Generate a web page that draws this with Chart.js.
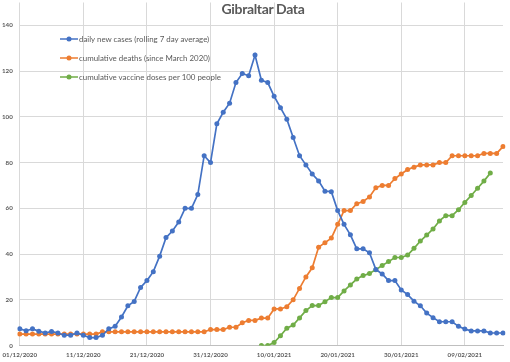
<!DOCTYPE html>
<html>
<head>
<meta charset="utf-8">
<script src="https://cdn.jsdelivr.net/npm/chart.js@4.4.1/dist/chart.umd.min.js"></script>
<style>
html,body{margin:0;padding:0;background:#ffffff;}
#wrap{position:relative;width:510px;height:362px;overflow:hidden;}
#c{position:absolute;left:0;top:0;}
#title{position:absolute;left:163px;width:200px;top:0px;text-align:center;font-family:Lato,sans-serif;font-weight:bold;font-size:14px;letter-spacing:-0.35px;line-height:17px;color:#595959;}
.li{position:absolute;left:60px;height:12px;display:flex;align-items:center;font-family:Lato,sans-serif;font-size:7.9px;color:#595959;white-space:nowrap;}
.li svg{display:block;margin-right:1px;}
</style>
</head>
<body>
<div id="wrap">
<canvas id="c" width="510" height="362"></canvas>
<div id="title">Gibraltar Data</div>
<div id="legend"></div>
</div>
<script>
// ---- data ----
const dates = [
'01/12/2020','02/12/2020','03/12/2020','04/12/2020','05/12/2020','06/12/2020','07/12/2020','08/12/2020','09/12/2020','10/12/2020',
'11/12/2020','12/12/2020','13/12/2020','14/12/2020','15/12/2020','16/12/2020','17/12/2020','18/12/2020','19/12/2020','20/12/2020',
'21/12/2020','22/12/2020','23/12/2020','24/12/2020','25/12/2020','26/12/2020','27/12/2020','28/12/2020','29/12/2020','30/12/2020',
'31/12/2020','01/01/2021','02/01/2021','03/01/2021','04/01/2021','05/01/2021','06/01/2021','07/01/2021','08/01/2021','09/01/2021',
'10/01/2021','11/01/2021','12/01/2021','13/01/2021','14/01/2021','15/01/2021','16/01/2021','17/01/2021','18/01/2021','19/01/2021',
'20/01/2021','21/01/2021','22/01/2021','23/01/2021','24/01/2021','25/01/2021','26/01/2021','27/01/2021','28/01/2021','29/01/2021',
'30/01/2021','31/01/2021','01/02/2021','02/02/2021','03/02/2021','04/02/2021','05/02/2021','06/02/2021','07/02/2021','08/02/2021',
'09/02/2021','10/02/2021','11/02/2021','12/02/2021','13/02/2021','14/02/2021','15/02/2021'
];
const tickLabels = ['01/12/2020','11/12/2020','21/12/2020','31/12/2020','10/01/2021','20/01/2021','30/01/2021','09/02/2021'];
const yTicks = [0,20,40,60,80,100,120,140];

const seriesNames = [
  'daily new cases (rolling 7 day average)',
  'cumulative deaths (since March 2020)',
  'cumulative vaccine doses per 100 people'
];
const seriesColors = ['#4472C4','#ED7D31','#70AD47'];

const dailyCases = [
7.3,6.5,7.3,6.3,5.5,6.2,5.5,4.5,4.5,5.5,
4.5,3.5,3.5,4.5,7.3,8.4,12.5,17.4,19.3,25.4,
28.4,32.3,39.1,47.2,50.1,54,60,60,66,83,
80,97,102,106,115,119,118,127,116,115,
109,104,99,91,83,79,75,72,67.5,67.3,
59,53,48.4,42.3,42.3,40.6,33.3,31.3,28.4,28.4,
24.3,22.3,19.4,17.4,14.2,12.2,10.4,10.4,10.4,8.4,
7.2,6.4,6.4,6.4,5.5,5.5,5.5
];
const cumulativeDeaths = [
5,5,5,5,5,5,5,5,5,5,
5,5,5,6,6,6,6,6,6,6,
6,6,6,6,6,6,6,6,6,6,
7,7,7,8,8,10,11,11,12,12,
16,16,17,20,25,30,34,43,45,47,
53,59,59,62,63,65,69,70,70,73,
75,77,78,79,79,79,80,80,83,83,
83,83,83,84,84,84,87
];
const vaccineStart = '08/01/2021';
const vaccineDoses = [
0,0,1.3,4.3,7.6,9,12.1,15.3,17.5,17.5,
19.2,21,21,23.9,26.5,29.1,30.6,31.5,33.2,35,
36.7,38.5,38.5,39.6,42.5,45.7,48.3,51,54.5,56.8,
56.8,59.4,62.6,65.6,68.8,71.9,75.4
];

// ---- build ----
const vStart = dates.indexOf(vaccineStart);
const vaccineData = vaccineDoses.map((v, i) => ({x: dates[vStart + i], y: v}));

function ds(i, data) {
  return {
    label: seriesNames[i], data: data,
    borderColor: seriesColors[i], backgroundColor: seriesColors[i],
    pointBackgroundColor: seriesColors[i], pointBorderColor: seriesColors[i],
    borderWidth: 1.7, pointRadius: 2.5, pointBorderWidth: 0, pointHoverRadius: 2.5,
    tension: 0, fill: false
  };
}

const xFont = {family: 'Lato, sans-serif', size: 6.2, weight: 'bold'};
const yFont = {family: 'Lato, sans-serif', size: 6.2, weight: 'bold', lineHeight: 0.01};

new Chart(document.getElementById('c'), {
  type: 'line',
  data: {
    labels: dates,
    datasets: [ds(0, dailyCases), ds(1, cumulativeDeaths), ds(2, vaccineData)]
  },
  options: {
    responsive: false, animation: false, devicePixelRatio: 1,
    layout: {padding: {left: 2, right: 7, top: 0, bottom: 3}},
    plugins: {legend: {display: false}, title: {display: false}, tooltip: {enabled: false}},
    scales: {
      x: {
        type: 'category', offset: false,
        grid: {
          color: (c) => (tickLabels.includes(dates[c.index]) ? '#d9d9d9' : 'rgba(0,0,0,0)'),
          drawTicks: true, tickLength: 6, tickColor: 'rgba(0,0,0,0)', lineWidth: 1
        },
        border: {color: '#bfbfbf', width: 1},
        ticks: {
          autoSkip: false, maxRotation: 0, minRotation: 0, padding: 0,
          color: '#595959', font: xFont,
          callback: (v, i) => (tickLabels.includes(dates[i]) ? dates[i] : '')
        }
      },
      y: {
        min: 0, max: 150,
        afterBuildTicks: (axis) => { axis.ticks = yTicks.map(v => ({value: v})); },
        grid: {color: '#d9d9d9', drawTicks: true, tickLength: 7, tickColor: 'rgba(0,0,0,0)', lineWidth: 1},
        border: {display: false},
        ticks: {padding: 0, color: '#595959', font: yFont}
      }
    }
  }
});

// ---- legend (HTML) ----
const legendTops = [33, 52, 71];
const lg = document.getElementById('legend');
seriesNames.forEach((name, i) => {
  const d = document.createElement('div');
  d.className = 'li';
  d.style.top = legendTops[i] + 'px';
  d.innerHTML = '<svg width="18" height="8"><line x1="0" y1="4" x2="18" y2="4" stroke="' + seriesColors[i] +
    '" stroke-width="1.5"/><circle cx="9" cy="4" r="2.5" fill="' + seriesColors[i] + '"/></svg>';
  const s = document.createElement('span');
  s.textContent = name;
  d.appendChild(s);
  lg.appendChild(d);
});
</script>
</body>
</html>
